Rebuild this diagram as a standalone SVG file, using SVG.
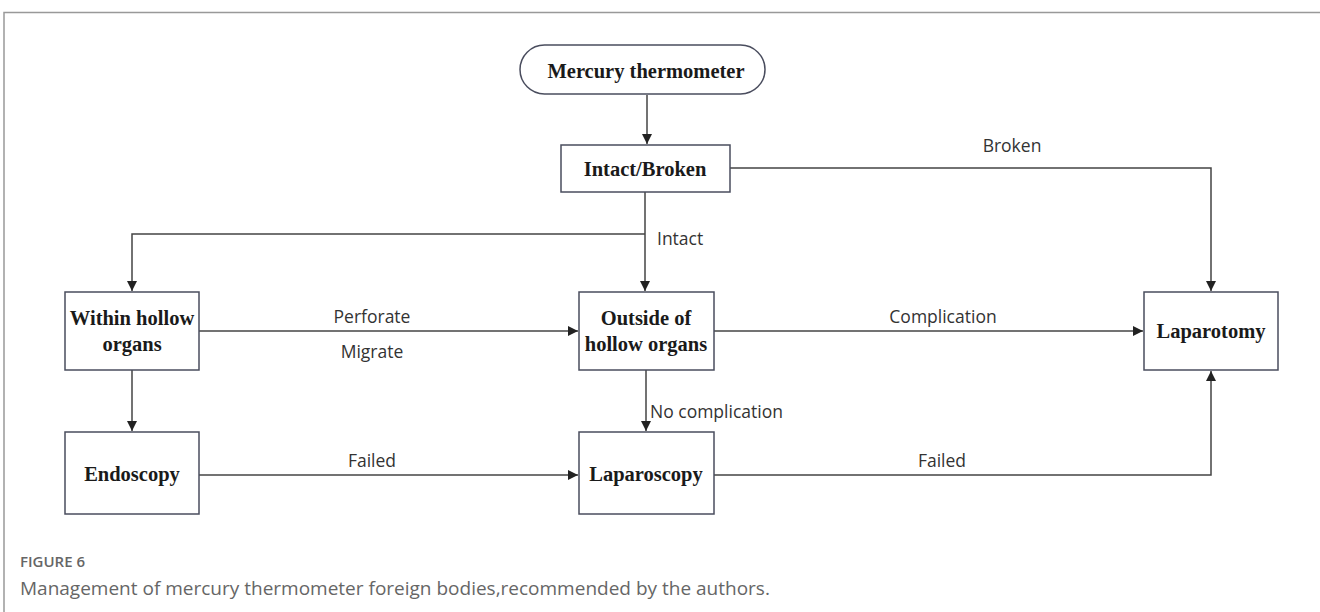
<svg xmlns="http://www.w3.org/2000/svg" width="1320" height="612" viewBox="0 0 1320 612">
<defs>
<marker id="arr" viewBox="0 0 10 10" refX="10" refY="5" markerWidth="10" markerHeight="10" markerUnits="userSpaceOnUse" orient="auto">
<path d="M0,0 L10,5 L0,10 z" fill="#222"/>
</marker>
<style>
.node{fill:#fff;stroke:#4a4d5e;stroke-width:1.5}
.nt{font-family:"Liberation Serif",serif;font-weight:bold;font-size:20.5px;fill:#1a1a1a;text-anchor:middle}
.edge{fill:none;stroke:#444;stroke-width:1.5}
.lbl{font-family:"Open Sans","Noto Sans",sans-serif;font-size:17.5px;fill:#333}
.cap{font-family:"Open Sans","Noto Sans",sans-serif;fill:#666}
</style>
</defs>
<rect width="1320" height="612" fill="#fff"/>
<path d="M4,612 V12.5 H1320" fill="none" stroke="#999" stroke-width="1.5"/>
<g id="connectors">
<path class="edge" d="M647,95 V144" marker-end="url(#arr)"/>
<path class="edge" d="M645,192 V291" marker-end="url(#arr)"/>
<path class="edge" d="M645,234 H132 V291" marker-end="url(#arr)"/>
<path class="edge" d="M730,168 H1211 V291" marker-end="url(#arr)"/>
<path class="edge" d="M199,331 H578" marker-end="url(#arr)"/>
<path class="edge" d="M714,331 H1143" marker-end="url(#arr)"/>
<path class="edge" d="M132,370 V431" marker-end="url(#arr)"/>
<path class="edge" d="M646,370 V431" marker-end="url(#arr)"/>
<path class="edge" d="M199,475 H578" marker-end="url(#arr)"/>
<path class="edge" d="M714,475 H1211 V371" marker-end="url(#arr)"/>
<text class="lbl" x="1012" y="152" text-anchor="middle">Broken</text>
<text class="lbl" x="657" y="245">Intact</text>
<text class="lbl" x="372" y="323" text-anchor="middle">Perforate</text>
<text class="lbl" x="372" y="358" text-anchor="middle">Migrate</text>
<text class="lbl" x="943" y="323" text-anchor="middle">Complication</text>
<text class="lbl" x="650" y="418">No complication</text>
<text class="lbl" x="372" y="467" text-anchor="middle">Failed</text>
<text class="lbl" x="942" y="467" text-anchor="middle">Failed</text>
</g>
<g id="mercury">
<rect class="node" x="520" y="45" width="245" height="49" rx="24.5"/>
<text class="nt" x="646" y="78">Mercury thermometer</text>
</g>
<g id="intact-broken">
<rect class="node" x="561" y="145" width="169" height="47"/>
<text class="nt" x="645" y="176">Intact/Broken</text>
</g>
<g id="within">
<rect class="node" x="65" y="292" width="134" height="78"/>
<text class="nt" x="132" y="325">Within hollow</text>
<text class="nt" x="132" y="351">organs</text>
</g>
<g id="outside">
<rect class="node" x="579" y="292" width="135" height="78"/>
<text class="nt" x="646" y="325">Outside of</text>
<text class="nt" x="646" y="351">hollow organs</text>
</g>
<g id="laparotomy">
<rect class="node" x="1144" y="292" width="134" height="78"/>
<text class="nt" x="1211" y="338">Laparotomy</text>
</g>
<g id="endoscopy">
<rect class="node" x="65" y="432" width="134" height="82"/>
<text class="nt" x="132" y="481">Endoscopy</text>
</g>
<g id="laparoscopy">
<rect class="node" x="579" y="432" width="135" height="82"/>
<text class="nt" x="646" y="481">Laparoscopy</text>
</g>
<text class="cap" x="20" y="567" font-size="15" font-weight="600">FIGURE 6</text>
<text class="cap" x="20" y="595" font-size="19">Management of mercury thermometer foreign bodies,recommended by the authors.</text>
</svg>
